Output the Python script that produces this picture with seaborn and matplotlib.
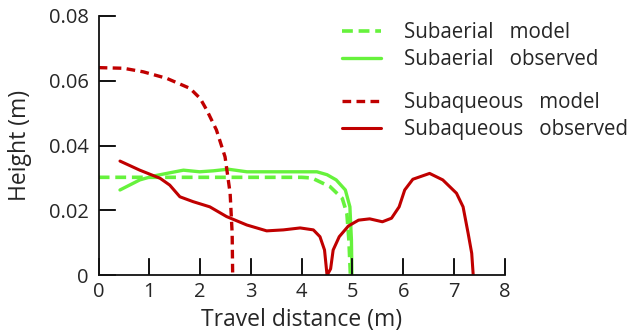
import matplotlib
matplotlib.use('Agg')
import matplotlib.pyplot as plt
import pandas as pd
import numpy as np
import seaborn as sns

# subaerial model (green dashed)
aer_mod_x = [0.0, 1.0, 2.0, 3.0, 4.0, 4.2, 4.56, 4.8, 4.89, 4.93, 4.96]
aer_mod_y = [0.0302, 0.0302, 0.0302, 0.0302, 0.0302, 0.0300, 0.0273, 0.0237, 0.0191, 0.0109, 0.0]

# subaerial observed (green solid)
aer_obs_x = [0.42, 0.81, 1.08, 1.34, 1.67, 1.99, 2.26, 2.55, 2.92, 3.64, 4.30, 4.50, 4.68, 4.86, 4.95, 4.98, 4.99]
aer_obs_y = [0.0263, 0.0294, 0.0306, 0.0314, 0.0324, 0.0319, 0.0322, 0.0327, 0.0319, 0.0319, 0.0319, 0.0310, 0.0294, 0.0263, 0.0211, 0.0109, 0.0]

# subaqueous model (red dashed)
aq_mod_x = [0.0, 0.49, 0.88, 1.34, 1.80, 2.0, 2.13, 2.32, 2.49, 2.59, 2.63, 2.64]
aq_mod_y = [0.0640, 0.0638, 0.0627, 0.0607, 0.0576, 0.0545, 0.0509, 0.0448, 0.0365, 0.0253, 0.0129, 0.0]

# subaqueous observed (red solid)
aq_obs_x = [0.42, 0.81, 1.21, 1.40, 1.60, 1.86, 2.19, 2.52, 2.92, 3.31, 3.64, 3.97, 4.23, 4.36, 4.45, 4.50,
            4.57, 4.62, 4.74, 4.92, 5.12, 5.34, 5.59, 5.77, 5.92, 6.03, 6.19, 6.52, 6.78, 7.05, 7.18, 7.28, 7.35, 7.38]
aq_obs_y = [0.0352, 0.0324, 0.0299, 0.0278, 0.0242, 0.0227, 0.0211, 0.0181, 0.0155, 0.0137, 0.0140, 0.0146, 0.0140,
            0.0119, 0.0078, 0.0, 0.0020, 0.0078, 0.0119, 0.0152, 0.0170, 0.0174, 0.0165, 0.0176, 0.0211, 0.0263,
            0.0296, 0.0314, 0.0294, 0.0253, 0.0211, 0.0129, 0.0068, 0.0]

xticks = [0, 1, 2, 3, 4, 5, 6, 7, 8]
yticks = [0, 0.02, 0.04, 0.06, 0.08]
ytick_labels = ['0', '0.02', '0.04', '0.06', '0.08']

verde = '#66f23c'
rojo = '#c00000'

sns.set_style('ticks')
plt.rcParams['font.family'] = ['Open Sans', 'DejaVu Sans']
plt.rcParams['axes.axisbelow'] = False

fig = plt.figure(figsize=(6.35, 3.34), dpi=100)
ax = fig.add_axes([0.1554, 0.1757, 0.6394, 0.7773])

sns.lineplot(x=aer_mod_x, y=aer_mod_y, ax=ax, color=verde, lw=2.6, sort=False, estimator=None)
ax.lines[-1].set_dashes([3.0, 1.6])
sns.lineplot(x=aer_obs_x, y=aer_obs_y, ax=ax, color=verde, lw=2.4, sort=False, estimator=None)
sns.lineplot(x=aq_mod_x, y=aq_mod_y, ax=ax, color=rojo, lw=2.4, sort=False, estimator=None)
ax.lines[-1].set_dashes([2.6, 1.6])
sns.lineplot(x=aq_obs_x, y=aq_obs_y, ax=ax, color=rojo, lw=2.2, sort=False, estimator=None)

lineas = list(ax.lines)
sns.despine(ax=ax)
for s in ['left', 'bottom']:
    ax.spines[s].set_linewidth(1.3)
    ax.spines[s].set_color('#111111')

ax.set_xlabel('Travel distance (m)', fontsize=16.5, labelpad=4)
ax.set_ylabel('Height (m)', fontsize=16.5, labelpad=12)

leg1 = ax.legend(lineas[:2], ['Subaerial   model', 'Subaerial   observed'],
                 loc='upper left', bbox_to_anchor=(342 / 635, 1 - 22 / 334), bbox_transform=fig.transFigure,
                 frameon=False, fontsize=14.8, handlelength=1.9, handletextpad=1.1, labelspacing=0.3, borderpad=0,
                 borderaxespad=0)
ax.add_artist(leg1)
ax.legend(lineas[2:], ['Subaqueous   model', 'Subaqueous   observed'],
          loc='upper left', bbox_to_anchor=(342 / 635, 1 - 92 / 334), bbox_transform=fig.transFigure,
          frameon=False, fontsize=14.8, handlelength=1.9, handletextpad=1.1, labelspacing=0.3, borderpad=0,
          borderaxespad=0)

ax.set_xlim(0, 8)
ax.set_ylim(0, 0.08)
ax.set_xticks(xticks)
ax.set_yticks(yticks)
ax.set_yticklabels(ytick_labels)
ax.tick_params(axis='x', direction='in', length=12, width=1.2, color='#111111', labelsize=14.5, pad=5)
ax.tick_params(axis='y', direction='in', length=12, width=1.2, color='#111111', labelsize=14.5, pad=7)

# marcas de ticks hacia adentro, dibujadas como segmentos (los markers no salen)
ax.vlines(xticks[1:], 0, 0.064, transform=ax.get_xaxis_transform(), colors='#111111', lw=1.2,
          clip_on=False, zorder=3)
ax.hlines(yticks[1:], 0, 0.041, transform=ax.get_yaxis_transform(), colors='#111111', lw=1.2,
          clip_on=False, zorder=3)

fig.savefig('out.png', dpi=100)
